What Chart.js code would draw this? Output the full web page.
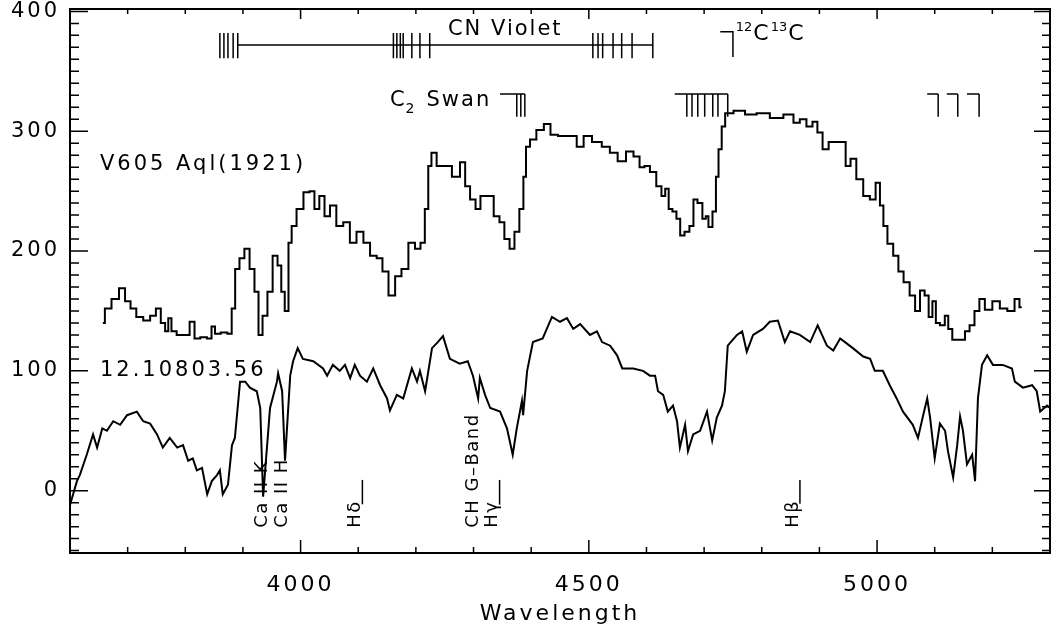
<!DOCTYPE html>
<html>
<head>
<meta charset="utf-8">
<script src="https://cdn.jsdelivr.net/npm/chart.js@4.4.1/dist/chart.umd.min.js"></script>
<style>
    html, body { margin: 0; padding: 0; background: #fff; }
</style>
</head>
<body>
<canvas id="spectrum" width="1053" height="633"></canvas>
<script>
// V605 Aql, 1921 spectrum (stepped), wavelength in A
const aqlWave = [3657, 3664, 3680, 3690, 3701, 3709, 3721, 3733, 3745, 3753, 3762, 3768, 3773, 3779, 3791, 3803, 3812, 3820, 3832, 3843,
    3848, 3855, 3868, 3878, 3883, 3890, 3898, 3907, 3916, 3924, 3930, 3938, 3947, 3956, 3964, 3969, 3976, 3982, 3987, 3999,
    4011, 4020, 4028, 4037, 4046, 4056, 4068, 4080, 4091, 4103, 4115, 4126, 4138, 4146, 4159, 4169, 4181, 4193, 4204, 4212,
    4219, 4224, 4230, 4242, 4254, 4271, 4282, 4289, 4299, 4308, 4316, 4329, 4341, 4349, 4358, 4367, 4375, 4384, 4389, 4393,
    4403, 4415, 4429, 4438, 4455, 4473, 4485, 4497, 4514, 4531, 4542, 4558, 4571, 4584, 4592, 4601, 4611, 4623, 4629, 4636,
    4641, 4649, 4655, 4662, 4670, 4679, 4684, 4693, 4701, 4705, 4710, 4719, 4722, 4728, 4733, 4740, 4762, 4780, 4802, 4826,
    4849, 4861, 4871, 4884, 4892, 4901, 4910, 4922, 4941, 4950, 4958, 4970, 4982, 4993, 5002, 5008, 5014, 5022, 5034, 5040,
    5052, 5061, 5071, 5078, 5087, 5092, 5100, 5104, 5114, 5121, 5126, 5135, 5149, 5156, 5165, 5173, 5182, 5192, 5208, 5218,
    5234, 5243, 5251];
const aqlFlux = [140, 152, 160, 169, 158, 152, 145, 142, 146, 152, 140, 133, 144, 133, 130, 130, 141, 127, 128, 127,
    137, 131, 132, 131, 152, 185, 194, 202, 185, 166, 130, 146, 166, 196, 188, 166, 150, 207, 221, 235,
    249, 250, 235, 246, 229, 238, 221, 224, 207, 216, 207, 196, 194, 183, 163, 179, 185, 207, 202, 207,
    235, 271, 282, 271, 271, 262, 274, 254, 243, 235, 246, 246, 229, 224, 210, 202, 216, 235, 262, 287,
    293, 301, 306, 297, 296, 296, 287, 296, 291, 287, 282, 275, 283, 279, 270, 271, 266, 254, 246, 252,
    235, 233, 227, 213, 216, 221, 243, 240, 227, 229, 220, 233, 262, 285, 304, 315, 317, 314, 315, 311,
    314, 307, 310, 304, 308, 299, 285, 291, 291, 271, 277, 260, 246, 243, 257, 238, 221, 206, 196, 183,
    174, 163, 150, 167, 163, 145, 158, 140, 138, 146, 135, 126, 126, 133, 138, 150, 160, 151, 158, 152,
    150, 160, 153];

// comparison star 12.10803.56
const starWave = [3600, 3612, 3617, 3629, 3640, 3647, 3656, 3664, 3675, 3687, 3699, 3716, 3727, 3739, 3751, 3761, 3773, 3786, 3796, 3805,
    3813, 3820, 3829, 3838, 3846, 3855, 3860, 3865, 3874, 3881, 3886, 3895, 3904, 3912, 3924, 3930, 3935, 3947, 3959, 3961,
    3968, 3973, 3982, 3987, 3995, 4004, 4022, 4039, 4046, 4056, 4068, 4077, 4086, 4094, 4103, 4115, 4126, 4138, 4150, 4155,
    4167, 4178, 4193, 4202, 4207, 4216, 4228, 4238, 4247, 4259, 4276, 4290, 4299, 4308, 4311, 4320, 4329, 4346, 4358, 4368,
    4375, 4384, 4386, 4393, 4403, 4420, 4436, 4450, 4462, 4473, 4485, 4502, 4514, 4523, 4537, 4549, 4558, 4577, 4594, 4606,
    4615, 4620, 4629, 4637, 4646, 4653, 4658, 4667, 4672, 4681, 4693, 4705, 4714, 4722, 4731, 4736, 4741, 4757, 4766, 4774,
    4785, 4802, 4814, 4828, 4840, 4849, 4866, 4884, 4897, 4913, 4924, 4936, 4958, 4976, 4988, 4996, 5010, 5022, 5034, 5045,
    5062, 5071, 5080, 5087, 5092, 5100, 5109, 5118, 5123, 5132, 5139, 5144, 5149, 5156, 5165, 5170, 5175, 5182, 5191, 5201,
    5218, 5234, 5239, 5253, 5269, 5277, 5283, 5295, 5300];
const starFlux = [-12, 8, 13, 30, 47, 36, 52, 50, 58, 55, 63, 66, 58, 56, 47, 36, 44, 36, 38, 25,
    27, 17, 19, -3, 8, 13, 17, -3, 5, 38, 44, 91, 91, 86, 83, 69, -5, 69, 91, 98,
    83, 25, 96, 108, 119, 110, 108, 102, 96, 105, 100, 105, 94, 105, 96, 91, 102, 88, 77, 67,
    80, 77, 102, 91, 100, 83, 119, 124, 129, 110, 106, 108, 96, 77, 94, 80, 69, 66, 52, 30,
    52, 75, 63, 100, 124, 127, 145, 141, 144, 135, 139, 130, 133, 124, 121, 113, 102, 102, 100, 96,
    96, 83, 80, 66, 71, 58, 36, 55, 33, 47, 50, 66, 42, 61, 71, 83, 121, 130, 133, 116,
    130, 135, 141, 142, 124, 133, 130, 124, 138, 121, 117, 127, 119, 112, 110, 100, 100, 88, 77, 66,
    55, 44, 63, 77, 61, 27, 56, 50, 33, 11, 38, 62, 50, 22, 30, 8, 77, 105, 113, 105,
    105, 102, 91, 86, 88, 83, 66, 71, 69];

// axis ranges and ticks
const waveMin = 3600, waveMax = 5300;
const fluxMin = -52, fluxMax = 402;
const waveTicks = [4000, 4500, 5000];
const fluxTicks = [0, 100, 200, 300, 400];
const waveMinor = 100, fluxMinor = 10;

// molecular band heads (A)
const cnHeads = [3860, 3867, 3874, 3883, 3891, 4161, 4167, 4173, 4178, 4193, 4207, 4224, 4507, 4516, 4524, 4542, 4557, 4575, 4611];
const cnSpan = [3891, 4611];
const c2Heads = [4375, 4382, 4389, 4670, 4679, 4689, 4701, 4715, 4724, 4741, 5106, 5140, 5177];
const c2Bars = [[4346, 4389], [4649, 4741], [5087, 5106], [5121, 5140], [5156, 5177]];
const isoBar = [4728, 4750];

// atomic line identifications
const lineNames = ['Ca II K', 'Ca II H', 'H\u03b4', 'CH G\u2013Band', 'H\u03b3', 'H\u03b2'];
const lineWaves = [3934, 3968, 4102, 4300, 4340, 4861];
const lineMarked = [false, false, true, false, true, true];

const starNames = ['V605 Aql(1921)', '12.10803.56'];
const starNameFlux = [272, 100];

const FONT = '"DejaVu Sans", sans-serif';

function toPoints(xs, ys) {
    return xs.map((w, i) => ({ x: w, y: ys[i] }));
}

// box with inward ticks on all four sides
const framePlugin = {
    id: 'frame',
    beforeDraw(chart) {
        chart.ctx.letterSpacing = '3px';
    },
    afterDatasetsDraw(chart) {
        const { ctx, chartArea: a, scales: { x, y } } = chart;
        ctx.save();
        ctx.letterSpacing = '0px';
        ctx.strokeStyle = '#000';
        ctx.lineWidth = 2;
        ctx.strokeRect(a.left, a.top, a.right - a.left, a.bottom - a.top);
        ctx.lineWidth = 1.5;
        ctx.beginPath();
        for (let w = waveMin; w <= waveMax; w += waveMinor) {
            const px = x.getPixelForValue(w);
            const major = waveTicks.includes(w);
            ctx.moveTo(px, a.bottom);
            ctx.lineTo(px, a.bottom - (major ? 13 : 6));
            ctx.moveTo(px, a.top);
            ctx.lineTo(px, a.top + (major ? 10 : 5));
        }
        for (let v = -50; v <= fluxMax; v += fluxMinor) {
            const py = y.getPixelForValue(v);
            const major = fluxTicks.includes(v);
            ctx.moveTo(a.left, py);
            ctx.lineTo(a.left + (major ? 18 : 9), py);
            ctx.moveTo(a.right, py);
            ctx.lineTo(a.right - (major ? 16 : 8), py);
        }
        ctx.stroke();
        ctx.restore();
    }
};

// band markers and labels
const notesPlugin = {
    id: 'notes',
    afterDatasetsDraw(chart) {
        const { ctx, scales: { x, y } } = chart;
        const X = v => x.getPixelForValue(v);
        const Y = v => y.getPixelForValue(v);
        ctx.save();
        ctx.strokeStyle = '#000';
        ctx.fillStyle = '#000';
        ctx.lineWidth = 1.5;

        // CN violet
        ctx.beginPath();
        ctx.moveTo(X(cnSpan[0]), Y(372));
        ctx.lineTo(X(cnSpan[1]), Y(372));
        cnHeads.forEach(w => {
            ctx.moveTo(X(w), Y(382));
            ctx.lineTo(X(w), Y(361));
        });
        // 12C13C
        ctx.moveTo(X(isoBar[0]), Y(383));
        ctx.lineTo(X(isoBar[1]), Y(383));
        ctx.lineTo(X(isoBar[1]), Y(362));
        // C2 Swan
        c2Bars.forEach(b => {
            ctx.moveTo(X(b[0]), Y(331));
            ctx.lineTo(X(b[1]), Y(331));
        });
        c2Heads.forEach(w => {
            ctx.moveTo(X(w), Y(331));
            ctx.lineTo(X(w), Y(312));
        });
        ctx.stroke();

        ctx.textBaseline = 'middle';
        ctx.letterSpacing = '2px';
        ctx.font = '21px ' + FONT;
        ctx.textAlign = 'center';
        ctx.fillText('CN Violet', X(4355), Y(385));

        ctx.textAlign = 'left';
        ctx.textBaseline = 'alphabetic';
        let cx = X(4755);
        ctx.letterSpacing = '0px';
        ctx.font = '13px ' + FONT;
        ctx.fillText('12', cx, Y(384));
        cx += ctx.measureText('12').width + 1;
        ctx.font = '22px ' + FONT;
        ctx.fillText('C', cx, Y(376));
        cx += ctx.measureText('C').width + 2;
        ctx.font = '13px ' + FONT;
        ctx.fillText('13', cx, Y(384));
        cx += ctx.measureText('13').width + 1;
        ctx.font = '22px ' + FONT;
        ctx.fillText('C', cx, Y(376));

        cx = X(4155);
        ctx.font = '21px ' + FONT;
        ctx.fillText('C', cx, Y(321));
        cx += ctx.measureText('C').width + 1;
        ctx.font = '14px ' + FONT;
        ctx.fillText('2', cx, Y(315));
        cx += ctx.measureText('2').width + 12;
        ctx.font = '21px ' + FONT;
        ctx.letterSpacing = '2px';
        ctx.fillText('Swan', cx, Y(321));

        // star names
        ctx.letterSpacing = '3px';
        ctx.textBaseline = 'middle';
        ctx.font = '21px ' + FONT;
        starNames.forEach((n, i) => ctx.fillText(n, X(3652), Y(starNameFlux[i])));

        // rotated line identifications
        ctx.font = '18px ' + FONT;
        ctx.letterSpacing = '1.5px';
        lineNames.forEach((n, i) => {
            const px = X(lineWaves[i]);
            const base = Y(-31);
            const shift = lineMarked[i] ? -4 : 0;
            ctx.save();
            ctx.translate(px + shift, base);
            ctx.rotate(-Math.PI / 2);
            ctx.textAlign = 'left';
            ctx.textBaseline = 'middle';
            ctx.fillText(n, 0, 0);
            ctx.restore();
            if (lineMarked[i]) {
                const w = ctx.measureText(n).width;
                ctx.beginPath();
                ctx.moveTo(px + 3, base - w + 4);
                ctx.lineTo(px + 3, Y(9));
                ctx.stroke();
            }
        });
        ctx.restore();
    }
};

new Chart(document.getElementById('spectrum'), {
    type: 'line',
    data: {
        datasets: [
            {
                label: starNames[0],
                data: toPoints(aqlWave, aqlFlux),
                borderColor: '#000',
                borderWidth: 2,
                pointRadius: 0,
                stepped: 'middle',
                fill: false
            },
            {
                label: starNames[1],
                data: toPoints(starWave, starFlux),
                borderColor: '#000',
                borderWidth: 2,
                pointRadius: 0,
                tension: 0,
                fill: false
            }
        ]
    },
    options: {
        responsive: false,
        animation: false,
        devicePixelRatio: 1,
        layout: { padding: { top: 0, right: 3, left: 0, bottom: 0 } },
        plugins: {
            legend: { display: false },
            tooltip: { enabled: false }
        },
        scales: {
            x: {
                type: 'linear',
                min: waveMin,
                max: waveMax,
                grid: { display: false, drawTicks: false },
                border: { display: false },
                afterBuildTicks: s => { s.ticks = waveTicks.map(v => ({ value: v })); },
                ticks: {
                    maxRotation: 0,
                    autoSkip: false,
                    color: '#000',
                    padding: 19,
                    font: { family: FONT, size: 22 },
                    callback: v => String(v)
                },
                title: {
                    display: true,
                    text: 'Wavelength',
                    color: '#000',
                    font: { family: FONT, size: 22 },
                    padding: { top: 0, bottom: 6 }
                },
                afterFit: s => {
                    s.height = 80;
                    s.paddingLeft = 0;
                    s.paddingRight = 0;
                }
            },
            y: {
                type: 'linear',
                min: fluxMin,
                max: fluxMax,
                grid: { display: false, drawTicks: false },
                border: { display: false },
                afterBuildTicks: s => { s.ticks = fluxTicks.map(v => ({ value: v })); },
                ticks: {
                    color: '#000',
                    padding: 10,
                    font: { family: FONT, size: 21 },
                    callback: v => String(v)
                },
                afterFit: s => {
                    s.width = 70;
                    s.paddingTop = 9;
                    s.paddingBottom = 0;
                }
            }
        }
    },
    plugins: [framePlugin, notesPlugin]
});
</script>
</body>
</html>
